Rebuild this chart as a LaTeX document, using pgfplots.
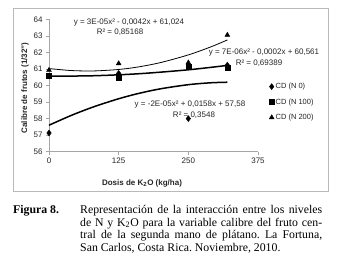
\documentclass[border=0pt]{standalone}
\usepackage{fontspec}
\setmainfont{Liberation Sans}
\newfontfamily\capfont{Liberation Serif}
\usepackage{pgfplots}
\pgfplotsset{compat=1.18}
\begin{document}
\frenchspacing
\begin{tikzpicture}[x=1pt,y=1pt]
\useasboundingbox (0,0) rectangle (339,268);
\fill[white] (0,0) rectangle (339,268);
\draw[gray!55, line width=0.9pt] (13,77) rectangle (328,260);
\begin{axis}[
  at={(49pt,116.3pt)}, anchor=south west,
  scale only axis, width=209pt, height=132.4pt,
  xmin=0, xmax=375, ymin=56, ymax=64,
  xtick={0,125,250,375}, ytick={56,57,58,59,60,61,62,63,64},
  axis lines*=left,
  axis line style={gray!70, -, line width=0.6pt},
  tick style={gray!70, line width=0.6pt},
  tick align=outside, major tick length=3pt,
  /pgf/number format/assume math mode=true,
  tick label style={font=\fontsize{8}{9}\selectfont, text=black!85},
  legend style={at={(axis description cs:1.053,0.375)}, anchor=west, draw=none, fill=none,
    font=\fontsize{7.5}{9}\selectfont, text=black!85, row sep=5.5pt, inner sep=0pt,
    nodes={inner sep=1.5pt}},
  legend cell align=left,
  legend image code/.code={\draw[#1] plot coordinates {(0pt,0pt)};},
  clip=false,
]
% trend lines
\addplot[black, line width=1.5pt, smooth, forget plot] coordinates {
 (0,57.6) (40,58.194) (80,58.710) (125,59.2) (160,59.514) (200,59.8) (250,60.05) (290,60.164) (320,60.198)};
\addplot[black, line width=1.5pt, smooth, forget plot] coordinates {
 (0,60.561) (80,60.59) (160,60.708) (250,60.949) (320,61.214)};
\addplot[black, line width=0.8pt, smooth, forget plot] coordinates {
 (0,61.024) (40,60.904) (80,60.88) (125,60.968) (160,61.12) (200,61.384) (250,61.849) (290,62.329) (320,62.752)};
% data
\addplot[only marks, mark=diamond*, mark size=3pt, black] coordinates {
 (0,57.13) (125,60.73) (250,58.0) (320,61.23)};
\addlegendentry{CD (N 0)}
\addplot[only marks, mark=square*, mark size=2.4pt, black] coordinates {
 (0,60.6) (125,60.46) (250,61.13) (320,61.09)};
\addlegendentry{CD (N 100)}
\addplot[only marks, mark=triangle*, mark size=2.8pt, black] coordinates {
 (0,60.93) (125,61.33) (250,61.38) (320,63.05)};
\addlegendentry{CD (N 200)}
\end{axis}
\begin{scope}[every node/.style={font=\fontsize{8}{9}\selectfont, text=black!85, inner sep=0pt}]
\node at (129,245) {y = 3E-05x² - 0,0042x + 61,024};
\node at (120,236) {R² = 0,85168};
\node at (264,215) {y = 7E-06x² - 0,0002x + 60,561};
\node at (259,205) {R² = 0,69389};
\node at (190,163) {y = -2E-05x² + 0,0158x + 57,58};
\node at (194,153) {R² = 0,3548};
\node[rotate=90, font=\fontsize{8}{9}\selectfont\bfseries] at (25,180) {Calibre de frutos (1/32")};
\node[font=\fontsize{8}{9}\selectfont\bfseries] at (142,85) {Dosis de K\textsubscript{2}O (kg/ha)};
\end{scope}
\node[anchor=base west, inner sep=0pt, font=\capfont\fontsize{11.8}{12.8}\selectfont\bfseries] at (13,54.7) {Figura 8.};
\node[anchor=base west, inner sep=0pt, text width=242pt, align=justify,
  font=\capfont\fontsize{11.8}{12.8}\selectfont] at (80,54.7)
  {Representación de la interacción entre los niveles\linebreak de N y K\textsubscript{2}O para la variable calibre del fruto cen-\linebreak tral de la segunda mano de plátano. La Fortuna,\linebreak San Carlos, Costa Rica. Noviembre, 2010.};
\end{tikzpicture}
\end{document}
